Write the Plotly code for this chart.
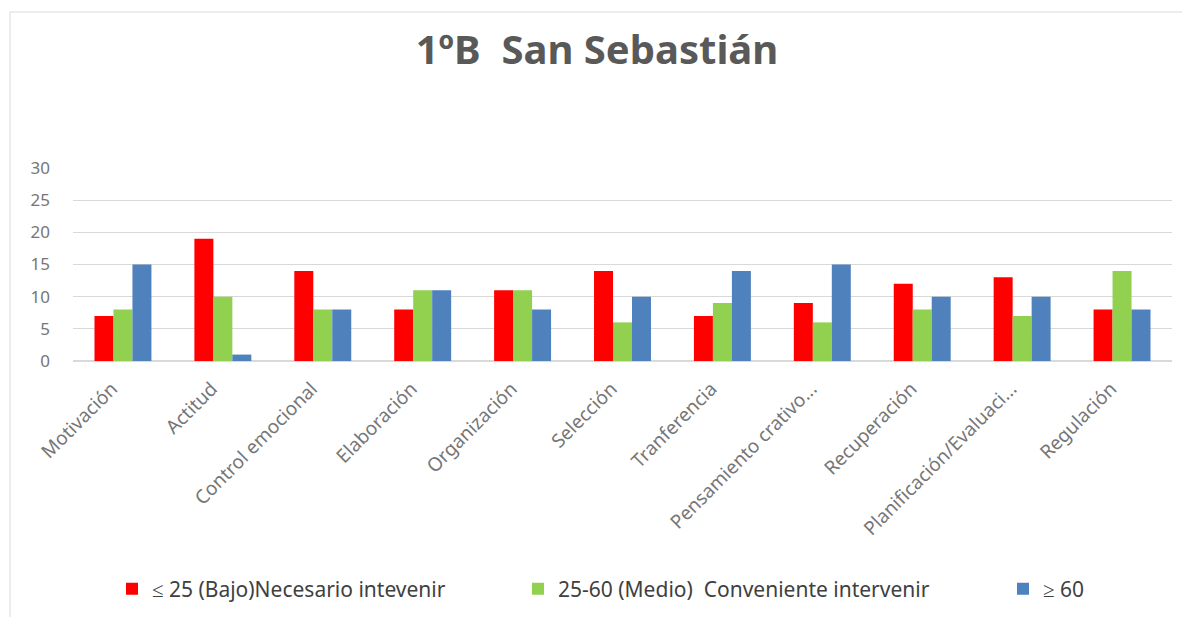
import plotly.graph_objects as go

categories = ["Motivación", "Actitud", "Control emocional", "Elaboración", "Organización",
              "Selección", "Tranferencia", "Pensamiento crativo...", "Recuperación",
              "Planificación/Evaluaci...", "Regulación"]
bajo = [7, 19, 14, 8, 11, 14, 7, 9, 12, 13, 8]
medio = [8, 10, 8, 11, 11, 6, 9, 6, 8, 7, 14]
alto = [15, 1, 8, 11, 8, 10, 14, 15, 10, 10, 8]
series_names = ["≤ 25 (Bajo)Necesario intevenir", "25-60 (Medio)  Conveniente intervenir", "≥ 60"]
colors = ["#FF0000", "#92D050", "#4F81BD"]
legend_ids = ["legend", "legend2", "legend3"]

fig = go.Figure()
for name, vals, c, lg in zip(series_names, [bajo, medio, alto], colors, legend_ids):
    fig.add_trace(go.Bar(x=categories, y=vals, name=name, marker_color=c,
                         marker_line_width=0, legend=lg))

# page has an 8px body offset; target pixel positions minus 8
OFF = 8
L, R = 73 - OFF, 1190 - (1172 - OFF)
T, B = 168 - OFF, 617 - (361 - OFF)
ph = 617 - T - B
pw = 1190 - L - R
y0px = 361 - OFF


def px_x(p):
    return (p - OFF - L) / pw


def px_y(p):
    return (y0px - (p - OFF)) / ph


leg_common = dict(orientation="h", yanchor="middle", xanchor="left", y=px_y(589),
                  font=dict(size=21, color="#404040", family="Noto Sans"),
                  itemwidth=30, bgcolor="rgba(0,0,0,0)")

fig.update_layout(
    width=1190, height=617,
    margin=dict(l=L, r=R, t=T, b=B),
    paper_bgcolor="white", plot_bgcolor="white",
    font=dict(family="Noto Sans", color="#595959", size=14),
    title=dict(text="<b>1ºB  San Sebastián</b>", x=(597 - OFF) / 1190, xanchor="center",
               y=1 - (50 - OFF) / 617, yanchor="middle",
               font=dict(size=40, color="#595959", family="Noto Sans")),
    barmode="group", bargap=0.43, bargroupgap=0,
    showlegend=True,
    legend=dict(x=px_x(152 - 40), **leg_common),
    legend2=dict(x=px_x(558 - 40), **leg_common),
    legend3=dict(x=px_x(1043 - 40), **leg_common),
    xaxis=dict(tickangle=-45, showgrid=False, showline=False, ticks="", ticklabelstandoff=12,
               ticklabelshift=-11, tickfont=dict(size=19, color="#767676")),
    yaxis=dict(range=[0, 30], dtick=5, showgrid=True, gridcolor="#D9D9D9", gridwidth=1,
               zeroline=True, zerolinecolor="#D9D9D9", showline=False, ticks="",
               ticklabelstandoff=22, tickfont=dict(size=17, color="#767676")),
)

# chart border (left/top)
bx = px_x(10)
by = px_y(12)
fig.add_shape(type="line", xref="paper", yref="paper",
              x0=bx, x1=bx, y0=by, y1=px_y(625),
              line=dict(color="#D9D9D9", width=1))
fig.add_shape(type="line", xref="paper", yref="paper",
              x0=bx, x1=px_x(1200), y0=by, y1=by,
              line=dict(color="#D9D9D9", width=1))

fig.write_html("out.html")
